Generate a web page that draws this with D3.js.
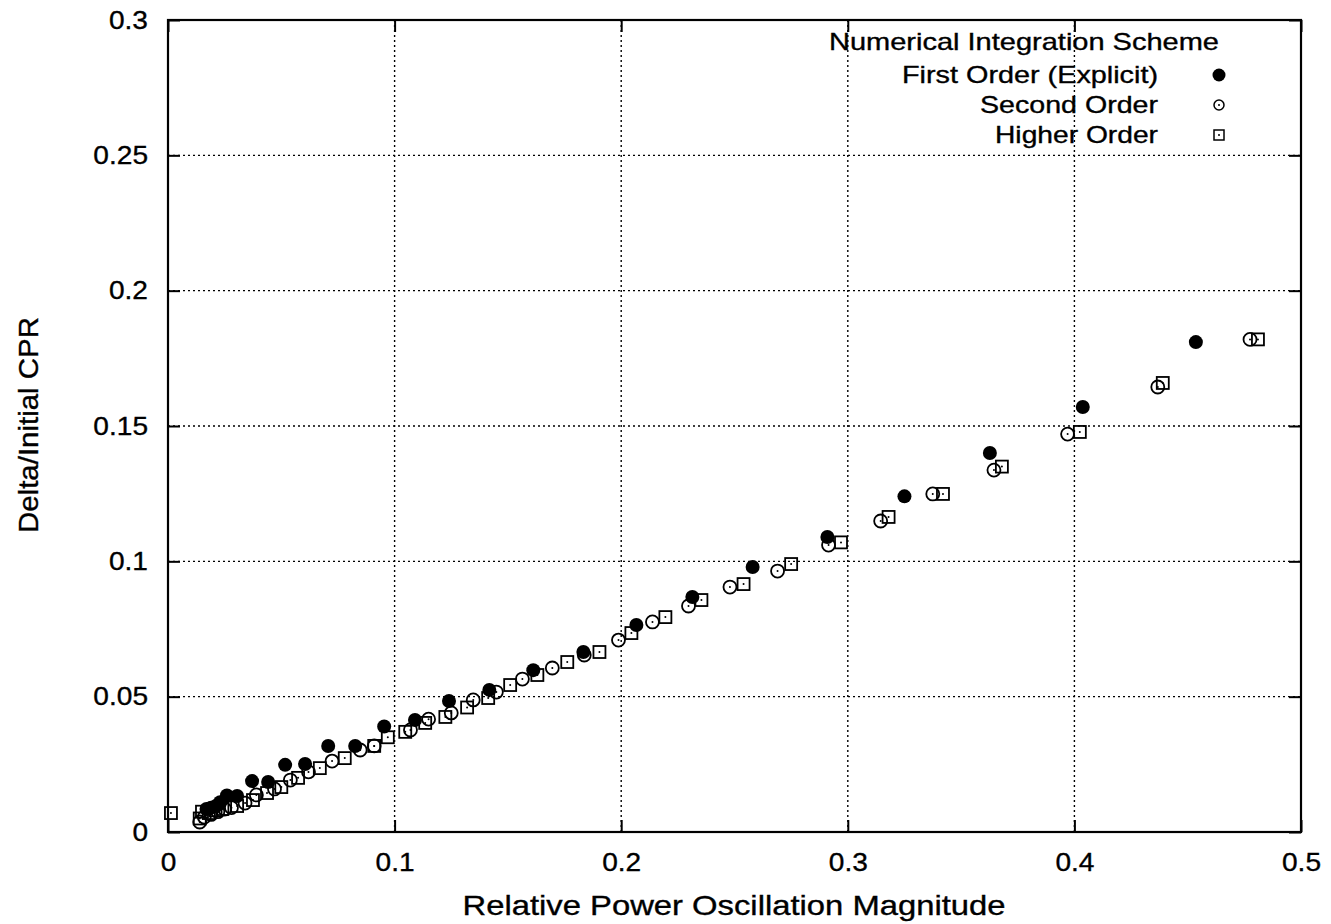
<!DOCTYPE html>
<html>
<head>
<meta charset="utf-8">
<script src="https://cdn.jsdelivr.net/npm/d3@7"></script>
<style>
  body { margin: 0; background: #fff; }
  svg text { font-family: "Liberation Sans", Arial, sans-serif; fill: #000; stroke: #000; stroke-width: 0.35px; }
</style>
</head>
<body>
<div id="chart"></div>
<script>
// values
var firstOrder = [
  [0.017, 0.0085], [0.019, 0.0090], [0.021, 0.0095], [0.023, 0.0110],
  [0.026, 0.0135], [0.0305, 0.0133], [0.0371, 0.0188], [0.0442, 0.0185],
  [0.0517, 0.0248], [0.0605, 0.0251], [0.0707, 0.0318], [0.0826, 0.0318],
  [0.0954, 0.0390], [0.109, 0.0414], [0.124, 0.0484], [0.1418, 0.0525],
  [0.1612, 0.0598], [0.1833, 0.0665], [0.2067, 0.0765], [0.2314, 0.0868],
  [0.258, 0.0979], [0.291, 0.109], [0.325, 0.124], [0.3627, 0.140],
  [0.4037, 0.157], [0.4536, 0.181]
];
var secondOrder = [
  [0.014, 0.0037], [0.016, 0.0055], [0.019, 0.0065], [0.022, 0.0075],
  [0.025, 0.0085], [0.028, 0.0090], [0.034, 0.0107], [0.039, 0.0137],
  [0.047, 0.0159], [0.054, 0.0192], [0.062, 0.0222], [0.0724, 0.0262],
  [0.0848, 0.0303], [0.091, 0.0318], [0.107, 0.0377], [0.115, 0.0417],
  [0.125, 0.0440], [0.1347, 0.0488], [0.1449, 0.0517], [0.1564, 0.0565],
  [0.1696, 0.0606], [0.1837, 0.0654], [0.1988, 0.0709], [0.2138, 0.0776],
  [0.2297, 0.0835], [0.248, 0.0905], [0.269, 0.0964], [0.2915, 0.106],
  [0.3145, 0.1149], [0.3375, 0.1249], [0.3645, 0.1337], [0.397, 0.147],
  [0.4368, 0.1644], [0.4775, 0.182]
];
var higherOrder = [
  [0.0013, 0.0070], [0.014, 0.0050], [0.015, 0.0075], [0.018, 0.0070],
  [0.021, 0.0080], [0.024, 0.0085], [0.0305, 0.0096], [0.0375, 0.0118],
  [0.0437, 0.0144], [0.050, 0.0166], [0.0574, 0.0200], [0.067, 0.0236],
  [0.078, 0.0273], [0.091, 0.0318], [0.097, 0.0350], [0.1047, 0.0370],
  [0.1135, 0.0403], [0.1224, 0.0425], [0.132, 0.0460], [0.1413, 0.0495],
  [0.151, 0.0543], [0.163, 0.0580], [0.1762, 0.0628], [0.1904, 0.0665],
  [0.2045, 0.0735], [0.2195, 0.0794], [0.2354, 0.0857], [0.254, 0.0916],
  [0.275, 0.099], [0.297, 0.107], [0.318, 0.1164], [0.342, 0.1249],
  [0.368, 0.135], [0.4024, 0.1478], [0.439, 0.1659], [0.481, 0.182]
];
var xTicks = [0, 0.1, 0.2, 0.3, 0.4, 0.5];
var yTicks = [0, 0.05, 0.1, 0.15, 0.2, 0.25, 0.3];
var legendTitle = "Numerical Integration Scheme";
var seriesNames = ["First Order (Explicit)", "Second Order", "Higher Order"];

var width = 1331, height = 924;
var margin = { top: 20, right: 30, bottom: 92, left: 168 };
var plotW = width - margin.left - margin.right;
var plotH = height - margin.top - margin.bottom;

var svg = d3.select("#chart").append("svg")
  .attr("width", width)
  .attr("height", height);

// the scanned lettering is wider than Liberation Sans, so stretch it a bit
function stretch(sel, factor) {
  sel.each(function() {
    var w = this.getComputedTextLength();
    d3.select(this).attr("textLength", w * factor).attr("lengthAdjust", "spacingAndGlyphs");
  });
}

var x = d3.scaleLinear().domain([0, 0.5]).range([0, plotW]);
var y = d3.scaleLinear().domain([0, 0.3]).range([plotH, 0]);

var g = svg.append("g")
  .attr("transform", "translate(" + margin.left + "," + margin.top + ")");

// dotted grid
g.append("g").selectAll("line")
  .data(xTicks.slice(1, -1)).enter().append("line")
  .attr("x1", d => x(d)).attr("x2", d => x(d))
  .attr("y1", 0).attr("y2", plotH)
  .attr("stroke", "#000").attr("stroke-width", 1.4)
  .attr("stroke-dasharray", "2,3");
g.append("g").selectAll("line")
  .data(yTicks.slice(1, -1)).enter().append("line")
  .attr("x1", 0).attr("x2", plotW)
  .attr("y1", d => y(d)).attr("y2", d => y(d))
  .attr("stroke", "#000").attr("stroke-width", 1.4)
  .attr("stroke-dasharray", "2,3");

// axes, ticks pointing inward like gnuplot
var xAxis = g.append("g")
  .attr("transform", "translate(0," + plotH + ")")
  .call(d3.axisBottom(x).tickValues(xTicks).tickSize(-12).tickPadding(20).tickFormat(d3.format("")));
var xTop = g.append("g")
  .call(d3.axisTop(x).tickValues(xTicks).tickSize(-12).tickFormat(""));
var yAxis = g.append("g")
  .call(d3.axisLeft(y).tickValues(yTicks).tickSize(-12).tickPadding(20).tickFormat(d3.format("")));
var yRight = g.append("g")
  .attr("transform", "translate(" + plotW + ",0)")
  .call(d3.axisRight(y).tickValues(yTicks).tickSize(-12).tickFormat(""));

[xAxis, xTop, yAxis, yRight].forEach(function(a) {
  a.select(".domain").remove();
  a.selectAll(".tick line").attr("stroke", "#000").attr("stroke-width", 2);
  a.selectAll("text").attr("font-size", 26).style("font-family", "Liberation Sans, Arial, sans-serif");
});
xAxis.selectAll("text").attr("dy", "0.72em");
stretch(xAxis.selectAll("text"), 1.08);
stretch(yAxis.selectAll("text"), 1.08);

g.append("rect")
  .attr("width", plotW).attr("height", plotH)
  .attr("fill", "none").attr("stroke", "#000").attr("stroke-width", 2.2);

// markers
function dot(sel) {
  sel.append("circle")
    .attr("cx", d => x(d[0])).attr("cy", d => y(d[1]))
    .attr("r", 1).attr("fill", "#000");
}

g.append("g").selectAll("g")
  .data(higherOrder).enter().append("g")
  .call(function(s) {
    s.append("rect")
      .attr("x", d => x(d[0]) - 6).attr("y", d => y(d[1]) - 6)
      .attr("width", 12).attr("height", 12)
      .attr("fill", "none").attr("stroke", "#000").attr("stroke-width", 1.8);
    dot(s);
  });

g.append("g").selectAll("g")
  .data(secondOrder).enter().append("g")
  .call(function(s) {
    s.append("circle")
      .attr("cx", d => x(d[0])).attr("cy", d => y(d[1]))
      .attr("r", 6.5).attr("fill", "none").attr("stroke", "#000").attr("stroke-width", 1.8);
    dot(s);
  });

g.append("g").selectAll("circle")
  .data(firstOrder).enter().append("circle")
  .attr("cx", d => x(d[0])).attr("cy", d => y(d[1]))
  .attr("r", 7).attr("fill", "#000");

// legend
var leg = svg.append("g").attr("font-size", 24).attr("text-anchor", "end");
leg.append("text").attr("x", 1219).attr("y", 50).text(legendTitle)
  .attr("textLength", 390).attr("lengthAdjust", "spacingAndGlyphs");
var rowWidths = [256, 178, 163];
seriesNames.forEach(function(name, i) {
  var yy = 75 + i * 30;
  leg.append("text").attr("x", 1158).attr("y", yy + 8).text(name)
    .attr("textLength", rowWidths[i]).attr("lengthAdjust", "spacingAndGlyphs");
  if (i === 0) {
    leg.append("circle").attr("cx", 1219).attr("cy", yy).attr("r", 6.5).attr("fill", "#000");
  } else if (i === 1) {
    leg.append("circle").attr("cx", 1219).attr("cy", yy).attr("r", 5)
      .attr("fill", "none").attr("stroke", "#000").attr("stroke-width", 1.5);
    leg.append("circle").attr("cx", 1219).attr("cy", yy).attr("r", 1).attr("fill", "#000");
  } else {
    leg.append("rect").attr("x", 1214).attr("y", yy - 5).attr("width", 10).attr("height", 10)
      .attr("fill", "none").attr("stroke", "#000").attr("stroke-width", 1.5);
    leg.append("circle").attr("cx", 1219).attr("cy", yy).attr("r", 1).attr("fill", "#000");
  }
});

// axis titles
svg.append("text")
  .attr("x", 734).attr("y", 915)
  .attr("text-anchor", "middle").attr("font-size", 28)
  .attr("textLength", 543).attr("lengthAdjust", "spacingAndGlyphs")
  .text("Relative Power Oscillation Magnitude");
svg.append("text")
  .attr("transform", "translate(38,425) rotate(-90)")
  .attr("text-anchor", "middle").attr("font-size", 28)
  .attr("textLength", 216).attr("lengthAdjust", "spacingAndGlyphs")
  .text("Delta/Initial CPR");
</script>
</body>
</html>
